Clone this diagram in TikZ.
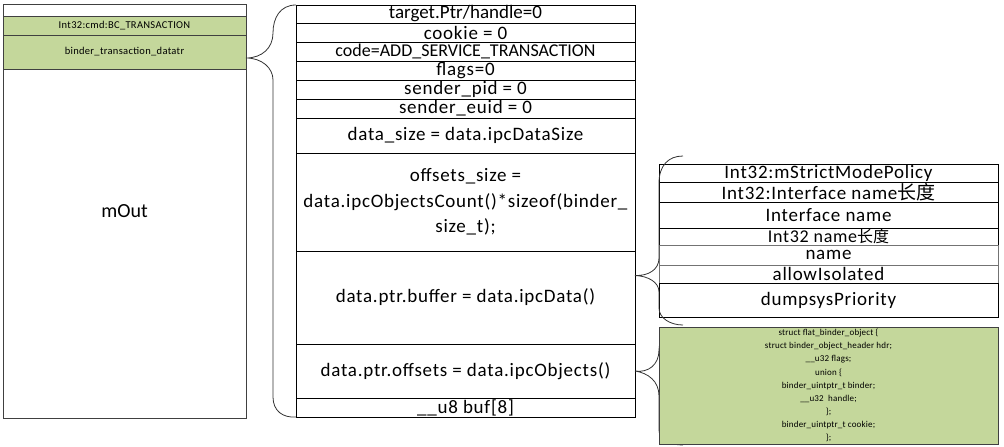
\documentclass[tikz,border=0pt]{standalone}
\usepackage{fontspec}
\setmainfont{Carlito}
\newfontfamily\cjk{Noto Sans CJK SC}
\usepackage{tikz}
\usetikzlibrary{positioning, calc}
\definecolor{olivegreen}{RGB}{196,215,155}

\begin{document}
\begin{tikzpicture}[x=1pt, y=-1pt]
		\useasboundingbox (0,0) rectangle (1004,447);
		
		\tikzstyle{cell}=[draw=black, line width=0.8pt, minimum width=339pt, inner sep=0pt, outer sep=0pt, text=black, font=\fontsize{19}{20}\selectfont\addfontfeature{LetterSpace=4}]
		\tikzstyle{greencell}=[draw=black!75, line width=0.8pt, fill=olivegreen, minimum width=243pt, inner sep=0pt, outer sep=0pt, text=black, font=\fontsize{10.5}{11}\selectfont\addfontfeature{LetterSpace=3}]
		\tikzstyle{brace}=[draw=black!80, line width=0.8pt]
		
		%% left block
		\node [draw=black!75, line width=0.8pt, minimum width=243pt, minimum height=414pt, inner sep=0pt, outer sep=0pt, font=\fontsize{20}{22}\selectfont] (mout) at (124.5,211) {mOut};
		\node [greencell, minimum height=19pt, below=12pt of mout.north] (cmd) {Int32:cmd:BC\_TRANSACTION};
		\node [greencell, minimum height=34pt, below=0pt of cmd] (tr) {binder\_transaction\_datatr};
		
		%% binder_transaction_data
		\node [cell, minimum height=18pt, anchor=north west, font=\fontsize{19}{20}\selectfont] (tgt) at (296,5) {target.Ptr/handle=0};
		\node [cell, minimum height=19pt, below=0pt of tgt] (cookie) {cookie = 0};
		\node [cell, minimum height=19pt, below=0pt of cookie, font=\fontsize{18}{20}\selectfont] (code) {code=ADD\_SERVICE\_TRANSACTION};
		\node [cell, minimum height=19pt, below=0pt of code] (flags) {flags=0};
		\node [cell, minimum height=19pt, below=0pt of flags] (pid) {sender\_pid = 0};
		\node [cell, minimum height=19pt, below=0pt of pid] (euid) {sender\_euid = 0};
		\node [cell, minimum height=35pt, below=0pt of euid] (dsize) {data\_size = data.ipcDataSize};
		\node [cell, minimum height=98pt, below=0pt of dsize, align=center, font=\fontsize{19}{25.5}\selectfont\addfontfeature{LetterSpace=4}] (osize) {offsets\_size =\\data.ipcObjectsCount()*sizeof(binder\_\\size\_t);};
		\node [cell, minimum height=93pt, below=0pt of osize] (buffer) {data.ptr.buffer = data.ipcData()};
		\node [cell, minimum height=54pt, below=0pt of buffer] (offs) {data.ptr.offsets = data.ipcObjects()};
		\node [cell, minimum height=19pt, below=0pt of offs] (buf) {\_\_u8 buf[8]};
		
		%% parcel data
		\node [cell, minimum height=18pt, anchor=north west] (policy) at (659,164) {Int32:mStrictModePolicy};
		\node [cell, minimum height=20pt, below=0pt of policy] (ilen) {Int32:Interface name{\cjk 长度}};
		\node [cell, minimum height=26pt, below=0pt of ilen] (iname) {Interface name};
		\node [cell, minimum height=17pt, below=0pt of iname, font=\fontsize{18}{18}\selectfont\addfontfeature{LetterSpace=4}] (nlen) {Int32 name{\cjk\fontsize{16}{16}\selectfont 长度}};
		\node [cell, minimum height=20pt, below=0pt of nlen, draw=black!55] (name) {name};
		\node [cell, minimum height=18pt, below=0pt of name, draw=black!55] (isol) {allowIsolated};
		\node [cell, minimum height=34pt, below=0pt of isol] (prio) {dumpsysPriority};
		
		%% braces
		\coordinate (b2top) at (683,156);
		\coordinate (b2bot) at (683,325);
		\coordinate (b3top) at (683,328);
		\coordinate (b3bot) at (683,445);
		
		\draw [brace] (tgt.north west) .. controls (280,5) and (273,18) .. (273,33) .. controls (273,48) and (262,58) .. ([yshift=-6pt]tr.east) .. controls (262,58) and (273,68) .. (273,80) -- (273,397) .. controls (273,411) and (283,418) .. (buf.south west);
		\draw [brace] (b2top) .. controls (668,156) and (659,166) .. (659,183) -- (659,258) .. controls (659,270) and (648,276) .. ([yshift=22pt]buffer.east) .. controls (648,276) and (659,282) .. (659,292) -- (659,308) .. controls (659,318) and (670,325) .. (b2bot);
		\draw [brace] (b3top) .. controls (668,328) and (659,338) .. (659,350) .. controls (659,365) and (648,373) .. (offs.east) .. controls (648,373) and (659,381) .. (659,396) -- (659,430) .. controls (659,440) and (670,445) .. (b3bot);
		
		%% flat_binder_object
		\node [draw=black!75, line width=0.8pt, fill=olivegreen, anchor=north west, minimum width=339pt, minimum height=117pt, inner sep=0pt, outer sep=0pt, align=center, font=\fontsize{9}{13.1}\selectfont\addfontfeature{LetterSpace=2}] (fbo) at (659,327) {struct flat\_binder\_object \{\\struct binder\_object\_header hdr;\\\_\_u32 flags;\\union \{\\binder\_uintptr\_t binder;\\\_\_u32~~handle;\\\};\\binder\_uintptr\_t cookie;\\\};};
		
		\end{tikzpicture}
\end{document}
